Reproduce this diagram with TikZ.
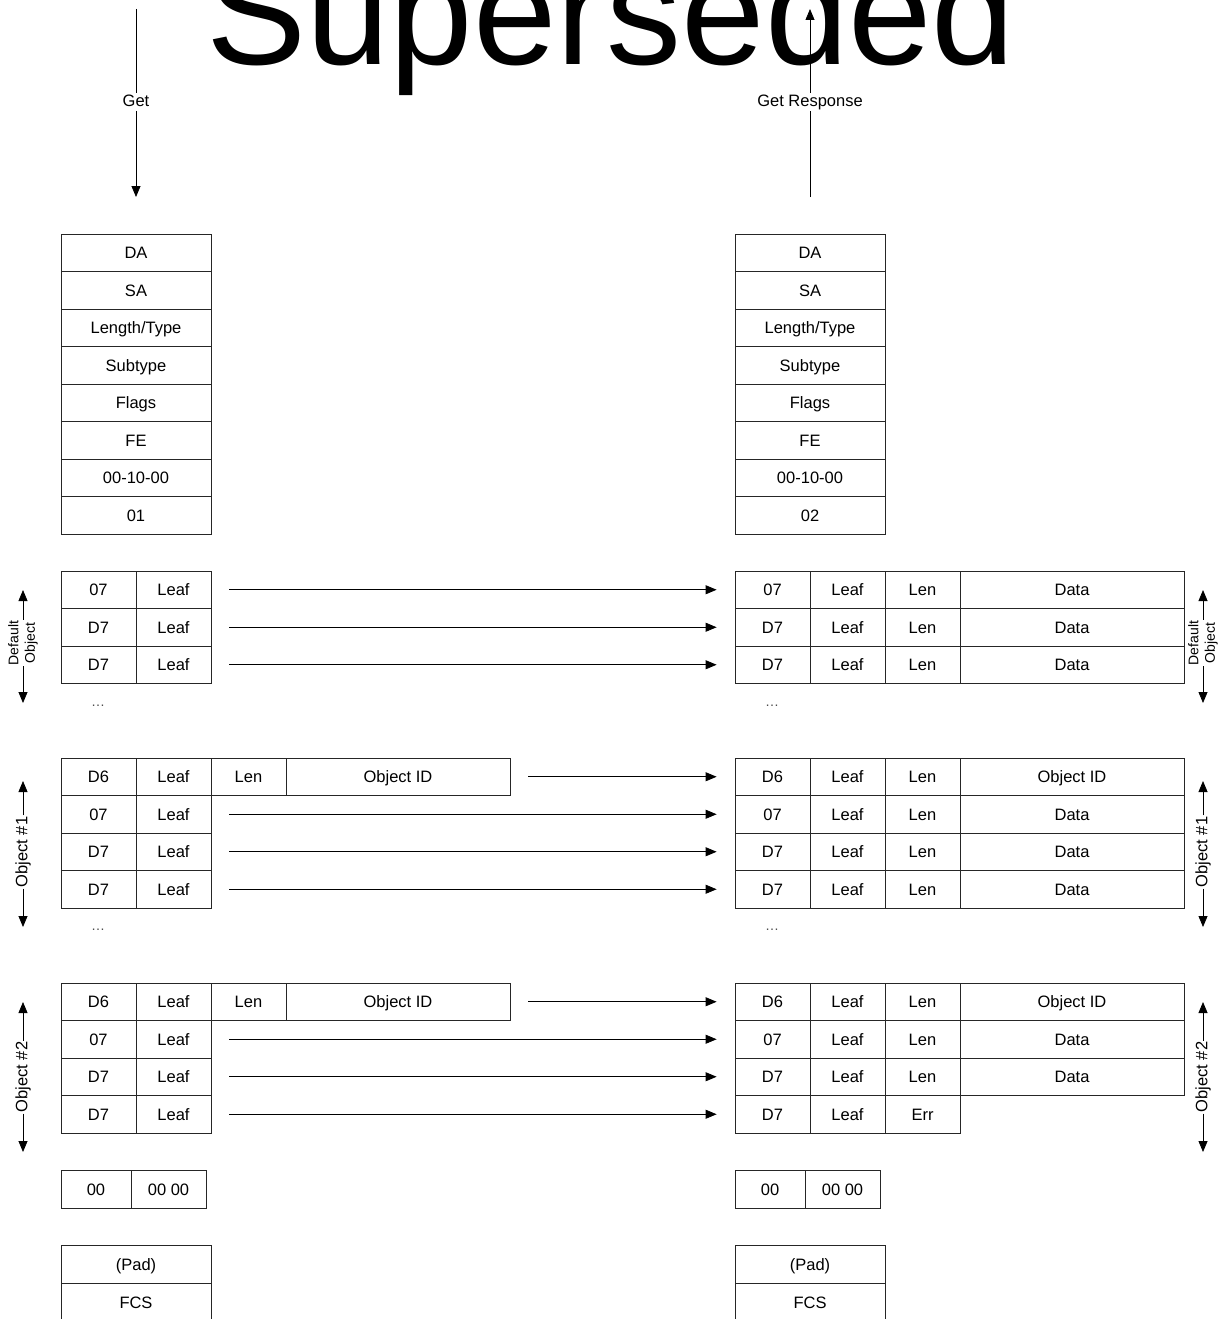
\documentclass[tikz,border=0pt]{standalone}
\usepackage{fontspec}
\setmainfont{Liberation Sans}
\usetikzlibrary{arrows.meta}
\newcommand\fcell{\fontsize{16.5}{19}\selectfont}
\newcommand\fsmall{\fontsize{14}{16.5}\selectfont}
\newcommand\cellbox[6]{\node[cell, minimum width={(#4)-(#2)}, minimum height={(#5)-(#3)}] (#1) at ({((#2)+(#4))/2},{((#3)+(#5))/2}) {#6};}
\begin{document}
\begin{tikzpicture}[x=1pt,y=-1pt,
  cell/.style={draw=black!85, line width=0.8pt, rectangle, inner sep=0pt, font=\fcell, text height=12pt, text depth=0pt},
  arr/.style={-{Triangle[length=11pt,width=9pt]}, line width=0.8pt},
  plainline/.style={line width=0.8pt},
  lbl/.style={font=\fcell, inner sep=1pt, text height=12pt, text depth=3.5pt},
  side/.style={rotate=90, font=\fcell, inner sep=1pt, text height=12pt, text depth=3.5pt},
  sidetwo/.style={rotate=90, font=\fsmall, align=center, inner sep=1pt},
  dotsl/.style={font=\fsmall, text=black!70, inner sep=0pt}]
\useasboundingbox (0,0) rectangle (1225,1319);
\clip (0,0) rectangle (1225,1319);

% watermark
\node[anchor=base, font=\fontsize{150}{150}\selectfont, inner sep=0pt] (sup) at (611,65) {Superseded};

% Get / Get Response
\coordinate (g0) at (136,9);
\coordinate (g1) at (136,197);
\node[lbl] (get) at (136,102) {Get};
\draw[plainline] (g0) -- (get.north);
\draw[arr] (get.south) -- (g1);
\coordinate (r0) at (810,197);
\coordinate (r1) at (810,9);
\node[lbl] (getr) at (810,102) {Get Response};
\draw[plainline] (r0) -- (getr.south);
\draw[arr] (getr.north) -- (r1);

% headers
\foreach [count=\i] \t/\u in {DA/DA,SA/SA,{Length/Type}/{Length/Type},Subtype/Subtype,Flags/Flags,FE/FE,00-10-00/00-10-00,01/02}{
  \pgfmathsetmacro\ya{234+37.5*(\i-1)}\pgfmathsetmacro\yb{\ya+37.5}
  \cellbox{hL\i}{61}{\ya}{211}{\yb}{\t}
  \cellbox{hR\i}{735}{\ya}{885}{\yb}{\u}
}

% Default object
\foreach [count=\i] \t in {07,D7,D7}{
  \pgfmathsetmacro\ya{571+37.5*(\i-1)}\pgfmathsetmacro\yb{\ya+37.5}
  \cellbox{dLa\i}{61}{\ya}{136}{\yb}{\t}
  \cellbox{dLb\i}{136}{\ya}{211}{\yb}{Leaf}
  \cellbox{dRa\i}{735}{\ya}{810}{\yb}{\t}
  \cellbox{dRb\i}{810}{\ya}{885}{\yb}{Leaf}
  \cellbox{dRc\i}{885}{\ya}{960}{\yb}{Len}
  \cellbox{dRd\i}{960}{\ya}{1184}{\yb}{Data}
  \draw[arr] ([xshift=18pt]dLb\i.east) -- ([xshift=-18pt]dRa\i.west);
}
\node[dotsl] (dotsA) at (98,706) {\dots};
\node[dotsl] (dotsB) at (772,706) {\dots};

% Object #1
\cellbox{aLa}{61}{758}{136}{795.5}{D6}
\cellbox{aLb}{136}{758}{211}{795.5}{Leaf}
\cellbox{aLc}{211}{758}{286}{795.5}{Len}
\cellbox{aLd}{286}{758}{510}{795.5}{Object ID}
\cellbox{aRa}{735}{758}{810}{795.5}{D6}
\cellbox{aRb}{810}{758}{885}{795.5}{Leaf}
\cellbox{aRc}{885}{758}{960}{795.5}{Len}
\cellbox{aRd}{960}{758}{1184}{795.5}{Object ID}
\draw[arr] ([xshift=18pt]aLd.east) -- ([xshift=-18pt]aRa.west);
\foreach [count=\i] \t in {07,D7,D7}{
  \pgfmathsetmacro\ya{795.5+37.5*(\i-1)}\pgfmathsetmacro\yb{\ya+37.5}
  \cellbox{oLa\i}{61}{\ya}{136}{\yb}{\t}
  \cellbox{oLb\i}{136}{\ya}{211}{\yb}{Leaf}
  \cellbox{oRa\i}{735}{\ya}{810}{\yb}{\t}
  \cellbox{oRb\i}{810}{\ya}{885}{\yb}{Leaf}
  \cellbox{oRc\i}{885}{\ya}{960}{\yb}{Len}
  \cellbox{oRd\i}{960}{\ya}{1184}{\yb}{Data}
  \draw[arr] ([xshift=18pt]oLb\i.east) -- ([xshift=-18pt]oRa\i.west);
}
\node[dotsl] (dotsC) at (98,930) {\dots};
\node[dotsl] (dotsD) at (772,930) {\dots};

% Object #2
\cellbox{bLa}{61}{983}{136}{1020.5}{D6}
\cellbox{bLb}{136}{983}{211}{1020.5}{Leaf}
\cellbox{bLc}{211}{983}{286}{1020.5}{Len}
\cellbox{bLd}{286}{983}{510}{1020.5}{Object ID}
\cellbox{bRa}{735}{983}{810}{1020.5}{D6}
\cellbox{bRb}{810}{983}{885}{1020.5}{Leaf}
\cellbox{bRc}{885}{983}{960}{1020.5}{Len}
\cellbox{bRd}{960}{983}{1184}{1020.5}{Object ID}
\draw[arr] ([xshift=18pt]bLd.east) -- ([xshift=-18pt]bRa.west);
\foreach [count=\i] \t in {07,D7,D7}{
  \pgfmathsetmacro\ya{1020.5+37.5*(\i-1)}\pgfmathsetmacro\yb{\ya+37.5}
  \cellbox{pLa\i}{61}{\ya}{136}{\yb}{\t}
  \cellbox{pLb\i}{136}{\ya}{211}{\yb}{Leaf}
  \cellbox{pRa\i}{735}{\ya}{810}{\yb}{\t}
  \cellbox{pRb\i}{810}{\ya}{885}{\yb}{Leaf}
  \draw[arr] ([xshift=18pt]pLb\i.east) -- ([xshift=-18pt]pRa\i.west);
}
\cellbox{pRc1}{885}{1020.5}{960}{1058}{Len}
\cellbox{pRd1}{960}{1020.5}{1184}{1058}{Data}
\cellbox{pRc2}{885}{1058}{960}{1095.5}{Len}
\cellbox{pRd2}{960}{1058}{1184}{1095.5}{Data}
\cellbox{pRc3}{885}{1095.5}{960}{1133}{Err}

% end of TLVs
\cellbox{eLa}{61}{1170}{131}{1208}{00}
\cellbox{eLb}{131}{1170}{206}{1208}{00 00}
\cellbox{eRa}{735}{1170}{805}{1208}{00}
\cellbox{eRb}{805}{1170}{880}{1208}{00 00}

% pad / FCS
\cellbox{fLa}{61}{1245}{211}{1283}{(Pad)}
\cellbox{fLb}{61}{1283}{211}{1322}{FCS}
\cellbox{fRa}{735}{1245}{885}{1283}{(Pad)}
\cellbox{fRb}{735}{1283}{885}{1322}{FCS}

% side brackets
\node[sidetwo] (sdL) at (23,643) {Default\\Object};
\coordinate (sdLt) at (23,590); \coordinate (sdLb) at (23,703);
\draw[arr] (sdL.east) -- (sdLt); \draw[arr] (sdL.west) -- (sdLb);
\node[sidetwo] (sdR) at (1203,643) {Default\\Object};
\coordinate (sdRt) at (1203,590); \coordinate (sdRb) at (1203,703);
\draw[arr] (sdR.east) -- (sdRt); \draw[arr] (sdR.west) -- (sdRb);

\node[side] (s1L) at (23,852) {Object \#1};
\coordinate (s1Lt) at (23,781); \coordinate (s1Lb) at (23,927);
\draw[arr] (s1L.east) -- (s1Lt); \draw[arr] (s1L.west) -- (s1Lb);
\node[side] (s1R) at (1203,852) {Object \#1};
\coordinate (s1Rt) at (1203,781); \coordinate (s1Rb) at (1203,927);
\draw[arr] (s1R.east) -- (s1Rt); \draw[arr] (s1R.west) -- (s1Rb);

\node[side] (s2L) at (23,1077) {Object \#2};
\coordinate (s2Lt) at (23,1002); \coordinate (s2Lb) at (23,1152);
\draw[arr] (s2L.east) -- (s2Lt); \draw[arr] (s2L.west) -- (s2Lb);
\node[side] (s2R) at (1203,1077) {Object \#2};
\coordinate (s2Rt) at (1203,1002); \coordinate (s2Rb) at (1203,1152);
\draw[arr] (s2R.east) -- (s2Rt); \draw[arr] (s2R.west) -- (s2Rb);
\end{tikzpicture}
\end{document}
